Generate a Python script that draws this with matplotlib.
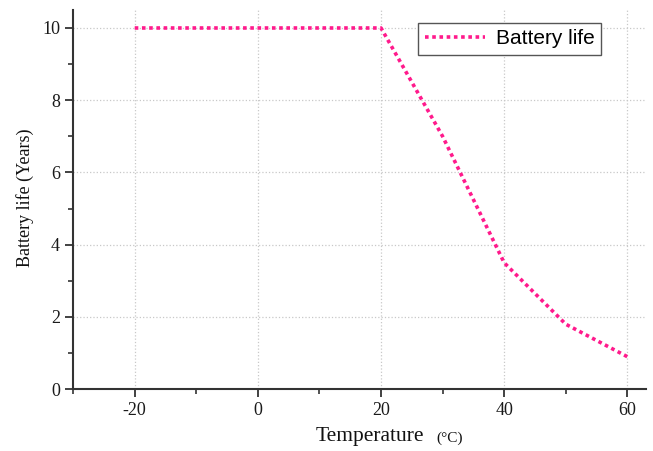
import matplotlib
matplotlib.use('Agg')
import matplotlib.pyplot as plt
from matplotlib.ticker import MultipleLocator

# Battery life vs temperature
temperature = [-20, 20, 30, 40, 50, 60]
battery_life = [10, 10, 7.0, 3.5, 1.8, 0.9]

plt.rcParams['font.family'] = 'Liberation Serif'
plt.rcParams['axes.unicode_minus'] = False

fig = plt.figure(figsize=(6.53, 4.51), dpi=100)
ax = fig.add_axes([0.112, 0.137, 0.877, 0.841])

ax.plot(temperature, battery_life, linestyle=(0, (1, 1)), color='#ff1a8c',
        linewidth=2.6, label='Battery life')

ax.set_xlim(-30, 63)
ax.set_ylim(0, 10.5)
ax.xaxis.set_major_locator(MultipleLocator(20))
ax.xaxis.set_minor_locator(MultipleLocator(10))
ax.yaxis.set_major_locator(MultipleLocator(2))
ax.yaxis.set_minor_locator(MultipleLocator(1))
ax.grid(True, which='major', linestyle=':', color='#c8c8c8', linewidth=0.9)

for side in ['top', 'right']:
    ax.spines[side].set_visible(False)
for side in ['left', 'bottom']:
    ax.spines[side].set_linewidth(1.5)
    ax.spines[side].set_color('#333333')

ax.tick_params(which='major', direction='out', length=6, width=1.3, labelsize=13, colors='#333333')
ax.tick_params(which='minor', direction='out', length=3.5, width=1.2, colors='#333333')
ax.tick_params(labelcolor='#1a1a1a')

# axis titles placed by hand (unit in smaller type)
fig.text(316 / 653, 1 - 437 / 451, 'Temperature', fontsize=15.5, ha='left', va='center', color='#111111')
fig.text(436 / 653, 1 - 438 / 451, '(\u00b0C)', fontsize=11, ha='left', va='center', color='#111111')
fig.text(25 / 653, 1 - 198 / 451, 'Battery life (Years)', fontsize=13, rotation=90,
         ha='center', va='center', color='#111111')

leg = ax.legend(loc='upper right', bbox_to_anchor=(0.921, 0.965), fancybox=False,
                framealpha=1, edgecolor='#555555', handlelength=2.9, handletextpad=0.5,
                borderpad=0.3, prop={'family': 'Liberation Sans', 'size': 15}, borderaxespad=0)
leg.get_frame().set_linewidth(1.0)

plt.savefig('out.png', dpi=100)
